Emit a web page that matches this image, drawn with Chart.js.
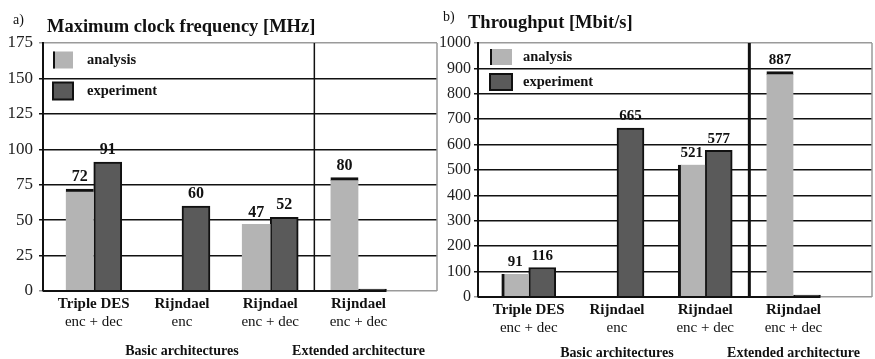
<!DOCTYPE html>
<html><head><meta charset="utf-8">
<script src="https://cdn.jsdelivr.net/npm/chart.js@4"></script>
<style>
html,body{margin:0;padding:0;background:#fff;}
#wrap{position:relative;width:875px;height:359px;overflow:hidden;background:#fff;}
.panel{position:absolute;top:0;width:440px;height:359px;}
</style></head><body>
<div id="wrap">
<div class="panel" style="left:0"><canvas id="ca" width="440" height="359"></canvas></div>
<div class="panel" style="left:435px"><canvas id="cb" width="440" height="359"></canvas></div>
</div>
<script>
// ---------- data ----------
const categories = ['Triple DES', 'Rijndael', 'Rijndael', 'Rijndael'];
const subLabels = ['enc + dec', 'enc', 'enc + dec', 'enc + dec'];
const groupNames = ['Basic architectures', 'Extended architecture'];
const groupCenters = [1, 3];          // category index under which each group caption sits
const basicCount = 3;                 // categories belonging to the basic group
const seriesNames = ['analysis', 'experiment'];
const panelTags = ['a)', 'b)'];
const panelTitles = ['Maximum clock frequency [MHz]', 'Throughput [Mbit/s]'];
const freqAnalysis = [72, null, 47, 80];
const freqExperiment = [91, 60, 52, 0];
const thrAnalysis = [91, null, 521, 887];
const thrExperiment = [116, 665, 577, 0];
const freqTicks = [0, 25, 50, 75, 100, 125, 150, 175];
const thrTicks = [0, 100, 200, 300, 400, 500, 600, 700, 800, 900, 1000];

// ---------- styling ----------
const SERIF = '"Liberation Serif", "Times New Roman", serif';
const LIGHT = '#b4b4b4', DARK = '#5a5a5a', INK = '#111', GRAYLINE = '#9a9a9a';

function toPoints(arr) { return arr.map((v, i) => ({x: i, y: v})); }

function makeChart(id, o) {
  const H = 359;
  const lo = o.ticks[0], hi = o.ticks[o.ticks.length - 1];
  const deco = {
    id: 'deco',
    beforeDatasetsDraw(chart) {
      const {ctx, chartArea: a, scales: {x}} = chart;
      ctx.save();
      ctx.strokeStyle = GRAYLINE; ctx.lineWidth = 1.5;
      ctx.beginPath(); ctx.moveTo(a.right, a.top); ctx.lineTo(a.right, a.bottom); ctx.stroke();
      const dx = (x.getPixelForValue(basicCount - 1) + x.getPixelForValue(basicCount)) / 2;
      ctx.strokeStyle = INK; ctx.lineWidth = o.dividerWidth;
      ctx.beginPath(); ctx.moveTo(dx, a.top); ctx.lineTo(dx, a.bottom); ctx.stroke();
      ctx.restore();
    },
    afterDatasetsDraw(chart) {
      const {ctx, chartArea: a} = chart;
      ctx.save();
      // black baseline under the bars
      const meta = chart.getDatasetMeta(1);
      const last = meta.data[meta.data.length - 1];
      ctx.strokeStyle = INK; ctx.lineWidth = 2;
      ctx.beginPath(); ctx.moveTo(a.left, a.bottom); ctx.lineTo(last.x + last.width / 2, a.bottom); ctx.stroke();
      // value labels
      ctx.fillStyle = INK; ctx.font = 'bold ' + o.valueFont + 'px ' + SERIF;
      ctx.textAlign = 'center'; ctx.textBaseline = 'bottom';
      chart.data.datasets.forEach((ds, di) => {
        chart.getDatasetMeta(di).data.forEach((el, i) => {
          const v = ds.data[i].y;
          if (v == null || v === 0) return;
          ctx.fillText(String(v), el.x, el.y - 4);
        });
      });
      // legend
      const lg = o.legend;
      seriesNames.forEach((name, i) => {
        const cy = a.top + lg.y[i];
        const bx = a.left + lg.x, by = cy - lg.h / 2;
        if (i === 0) {
          ctx.fillStyle = LIGHT; ctx.fillRect(bx, by, lg.w, lg.h);
          ctx.fillStyle = INK; ctx.fillRect(bx, by, 2, lg.h);
        } else {
          ctx.fillStyle = DARK; ctx.fillRect(bx, by, lg.w, lg.h);
          ctx.strokeStyle = INK; ctx.lineWidth = 2; ctx.strokeRect(bx, by, lg.w, lg.h);
        }
        ctx.fillStyle = INK; ctx.font = 'bold 14.5px ' + SERIF;
        ctx.textAlign = 'left'; ctx.textBaseline = 'middle';
        ctx.fillText(name, a.left + lg.textX, cy);
      });
      ctx.restore();
    },
    afterDraw(chart) {
      const {ctx, chartArea: a, scales: {x}} = chart;
      ctx.save();
      ctx.fillStyle = INK; ctx.textAlign = 'center'; ctx.textBaseline = 'middle';
      categories.forEach((c, i) => {
        const px = x.getPixelForValue(i);
        ctx.font = 'bold 15px ' + SERIF; ctx.fillText(c, px, a.bottom + 13);
        ctx.font = '15px ' + SERIF; ctx.fillText(subLabels[i], px, a.bottom + 31);
      });
      ctx.font = 'bold 14px ' + SERIF;
      groupNames.forEach((g, i) => ctx.fillText(g, x.getPixelForValue(groupCenters[i]), a.bottom + o.groupDy));
      ctx.textAlign = 'left';
      ctx.font = '14px ' + SERIF; ctx.fillText(o.tag, o.tagPos[0], o.tagPos[1]);
      ctx.font = 'bold 18.5px ' + SERIF; ctx.fillText(o.title, o.titlePos[0], o.titlePos[1]);
      ctx.restore();
    }
  };
  return new Chart(document.getElementById(id), {
    type: 'bar',
    data: {
      datasets: [
        {label: seriesNames[0], data: toPoints(o.analysis), backgroundColor: LIGHT, borderColor: INK,
         borderSkipped: false, borderWidth: c => o.analysisBorders[c.dataIndex], barThickness: o.barW},
        {label: seriesNames[1], data: toPoints(o.experiment), backgroundColor: DARK, borderColor: INK,
         borderWidth: 2, minBarLength: 2, barThickness: o.barW}
      ]
    },
    options: {
      responsive: false, animation: false, devicePixelRatio: 1,
      layout: {padding: {left: 0, top: 43, right: 3, bottom: H - o.bottom}},
      plugins: {legend: {display: false}, tooltip: {enabled: false}},
      scales: {
        x: {type: 'linear', display: false, offset: false, min: o.xMin, max: o.xMax},
        y: {
          min: lo, max: hi,
          afterFit: s => { s.width = 43; },
          afterBuildTicks: s => { s.ticks = o.ticks.map(v => ({value: v})); },
          ticks: {font: {family: SERIF, size: o.tickFont}, color: '#222', padding: o.tickPad,
                  callback: v => String(v)},
          grid: {color: c => (c.tick && (c.tick.value === hi || c.tick.value === lo)) ? GRAYLINE : INK,
                 lineWidth: 1.5, tickLength: 4},
          border: {display: true, color: INK, width: 2}
        }
      }
    },
    plugins: [deco]
  });
}

makeChart('ca', {
  analysis: freqAnalysis, experiment: freqExperiment, ticks: freqTicks,
  analysisBorders: [{top: 3}, 0, 0, {top: 3}],
  bottom: 291, xMin: -0.575, xMax: 3.89, barW: 28, dividerWidth: 1.5, tickPad: 6, tickFont: 17, valueFont: 16,
  legend: {x: 10, y: [17, 48], w: 20, h: 17, textX: 44},
  groupDy: 60, tag: panelTags[0], tagPos: [13, 20], title: panelTitles[0], titlePos: [47, 27]
});
makeChart('cb', {
  analysis: thrAnalysis, experiment: thrExperiment, ticks: thrTicks,
  analysisBorders: [{left: 3}, 0, {left: 3}, {top: 3}],
  bottom: 297, xMin: -0.575, xMax: 3.89, barW: 27, dividerWidth: 3, tickPad: 3, tickFont: 16, valueFont: 15,
  legend: {x: 12, y: [14, 39], w: 22, h: 16, textX: 45},
  groupDy: 56, tag: panelTags[1], tagPos: [8, 17], title: panelTitles[1], titlePos: [33, 23]
});
</script>
</body></html>
